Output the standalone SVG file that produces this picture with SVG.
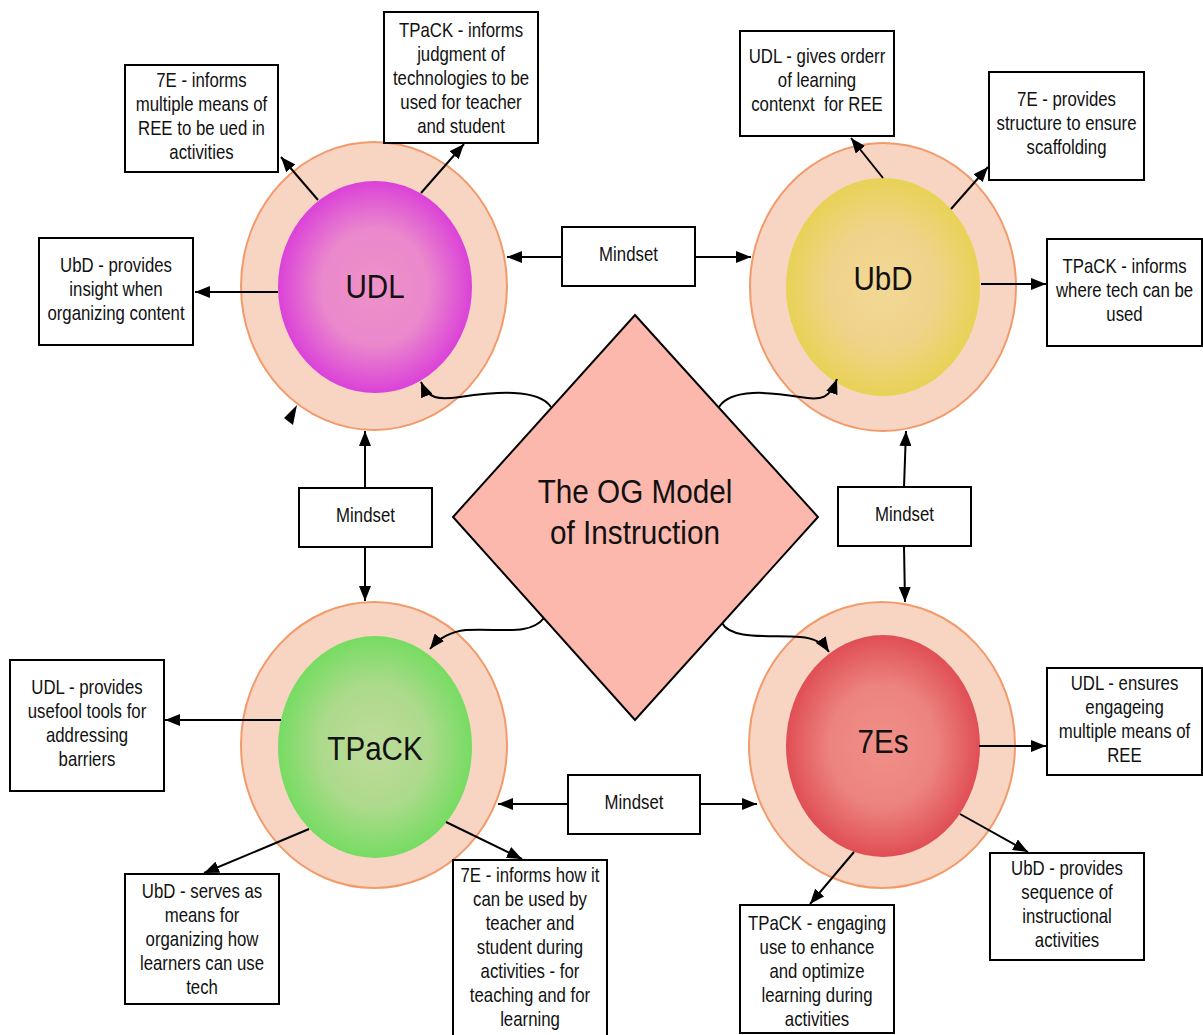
<svg xmlns="http://www.w3.org/2000/svg" width="1203" height="1035" viewBox="0 0 1203 1035">
<defs>
<style>
.box{fill:#fff;stroke:#000;stroke-width:2}
.t{font-family:'Liberation Sans',Arial,sans-serif;font-size:20px;fill:#111;text-anchor:middle}
.big{font-family:'Liberation Sans',Arial,sans-serif;font-size:34px;fill:#111;text-anchor:middle}
.ring{fill:#F8D5C2;stroke:#F29A6A;stroke-width:2}
.c{fill:none;stroke:#000;stroke-width:2;marker-end:url(#ah)}
.dia{fill:#FDB8AE;stroke:#000;stroke-width:2}
</style>
<marker id="ah" viewBox="0 0 15 12" refX="15" refY="6" markerWidth="15" markerHeight="12" orient="auto" markerUnits="userSpaceOnUse"><path d="M0,0 L15,6 L0,12 z" fill="#000"/></marker>
<radialGradient id="gU" cx="50%" cy="50%" r="50%"><stop offset="0" stop-color="#EE92C8"/><stop offset="0.55" stop-color="#EA88CC"/><stop offset="1" stop-color="#DB42D8"/></radialGradient>
<radialGradient id="gB" cx="50%" cy="50%" r="50%"><stop offset="0" stop-color="#F2D896"/><stop offset="0.55" stop-color="#F0D38A"/><stop offset="1" stop-color="#E8D256"/></radialGradient>
<radialGradient id="gT" cx="50%" cy="50%" r="50%"><stop offset="0" stop-color="#BEDB9A"/><stop offset="0.55" stop-color="#ADDA8C"/><stop offset="1" stop-color="#76DC62"/></radialGradient>
<radialGradient id="gE" cx="50%" cy="50%" r="50%"><stop offset="0" stop-color="#EF9088"/><stop offset="0.55" stop-color="#EC837E"/><stop offset="1" stop-color="#E04E55"/></radialGradient>
</defs>
<rect width="1203" height="1035" fill="#fff"/>

<g id="udl">
<ellipse class="ring" cx="374" cy="286" rx="133" ry="144"/>
<ellipse cx="375" cy="287" rx="97" ry="106" fill="url(#gU)"/>
<text class="big" transform="translate(375,298) scale(0.87,1)">UDL</text>
</g>
<g id="ubd">
<ellipse class="ring" cx="883" cy="287" rx="133" ry="144"/>
<ellipse cx="883" cy="287" rx="97" ry="109" fill="url(#gB)"/>
<text class="big" transform="translate(883,290) scale(0.87,1)">UbD</text>
</g>
<g id="tpack">
<ellipse class="ring" cx="374" cy="745" rx="133" ry="143"/>
<ellipse cx="375" cy="747" rx="97" ry="111" fill="url(#gT)"/>
<text class="big" transform="translate(375,760) scale(0.87,1)">TPaCK</text>
</g>
<g id="sevenes">
<ellipse class="ring" cx="882" cy="745" rx="133" ry="143"/>
<ellipse cx="883" cy="746" rx="97" ry="111" fill="url(#gE)"/>
<text class="big" transform="translate(883,753) scale(0.87,1)">7Es</text>
</g>

<g id="og-model">
<polygon class="dia" points="635,315 818,517 635,720 453,517"/>
<g transform="translate(635,0) scale(0.9,1)">
<text class="big" x="0" y="503" style="font-size:33px">The OG Model</text>
<text class="big" x="0" y="544" style="font-size:33px">of Instruction</text>
</g>
</g>

<g id="connectors">
<path class="c" d="M318,200 L281,157"/>
<path class="c" d="M421,193 L464,144"/>
<path class="c" d="M278,292 L195,292"/>
<path class="c" d="M883,178 L851,138"/>
<path class="c" d="M951,209 L988,167"/>
<path class="c" d="M981,284 L1046,284"/>
<path class="c" d="M281,720 L165,720"/>
<path class="c" d="M309,829 L204,873"/>
<path class="c" d="M446,822 L522,859"/>
<path class="c" d="M979,746 L1046,746"/>
<path class="c" d="M960,814 L1028,852"/>
<path class="c" d="M854,852 L810,904"/>
<path class="c" d="M562,257 L507,257"/>
<path class="c" d="M695,257 L751,257"/>
<path class="c" d="M365,488 L365,431"/>
<path class="c" d="M365,547 L365,601"/>
<path class="c" d="M904,487 L906,431"/>
<path class="c" d="M904,546 L905,602"/>
<path class="c" d="M568,804 L498,804"/>
<path class="c" d="M700,804 L757,804"/>
<path class="c" d="M551,407 C538,388 495,392 460,397 C438,400 428,399 421,382"/>
<path class="c" d="M719,407 C731,388 770,392 800,397 C822,401 830,398 837,379"/>
<path class="c" d="M544,618 C530,636 500,628 466,630 C448,632 438,639 430,649"/>
<path class="c" d="M722,623 C731,640 770,635 800,637 C815,638 823,643 829,652"/>
<polygon points="284,418 293,425 297,405" fill="#000"/>
</g>

<g id="mindset-top">
<rect class="box" x="562" y="227" width="133" height="59"/>
<text class="t" transform="translate(628.5,261) scale(0.84,1)">Mindset</text>
</g>
<g id="mindset-left">
<rect class="box" x="299" y="488" width="133" height="59"/>
<text class="t" transform="translate(365.5,522) scale(0.84,1)">Mindset</text>
</g>
<g id="mindset-right">
<rect class="box" x="838" y="487" width="133" height="59"/>
<text class="t" transform="translate(904.5,521) scale(0.84,1)">Mindset</text>
</g>
<g id="mindset-bottom">
<rect class="box" x="568" y="775" width="132" height="59"/>
<text class="t" transform="translate(634,809) scale(0.84,1)">Mindset</text>
</g>

<g id="b1">
<rect class="box" x="125" y="65" width="153" height="107"/>
<g transform="translate(201.5,0) scale(0.84,1)">
<text class="t" x="0" y="87">7E - informs</text>
<text class="t" x="0" y="111">multiple means of</text>
<text class="t" x="0" y="135">REE to be ued in</text>
<text class="t" x="0" y="159">activities</text>
</g>
</g>
<g id="b2">
<rect class="box" x="384" y="12" width="154" height="131"/>
<g transform="translate(461,0) scale(0.84,1)">
<text class="t" x="0" y="37">TPaCK - informs</text>
<text class="t" x="0" y="61">judgment of</text>
<text class="t" x="0" y="85">technologies to be</text>
<text class="t" x="0" y="109">used for teacher</text>
<text class="t" x="0" y="133">and student</text>
</g>
</g>
<g id="b3">
<rect class="box" x="39" y="238" width="154" height="107"/>
<g transform="translate(116,0) scale(0.84,1)">
<text class="t" x="0" y="272">UbD - provides</text>
<text class="t" x="0" y="296">insight when</text>
<text class="t" x="0" y="320">organizing content</text>
</g>
</g>
<g id="b4">
<rect class="box" x="740" y="31" width="154" height="105"/>
<g transform="translate(817,0) scale(0.84,1)">
<text class="t" x="0" y="63">UDL - gives orderr</text>
<text class="t" x="0" y="87">of learning</text>
<text class="t" x="0" y="111" xml:space="preserve">contenxt  for REE</text>
</g>
</g>
<g id="b5">
<rect class="box" x="989" y="72" width="155" height="108"/>
<g transform="translate(1066.5,0) scale(0.84,1)">
<text class="t" x="0" y="106">7E - provides</text>
<text class="t" x="0" y="130">structure to ensure</text>
<text class="t" x="0" y="154">scaffolding</text>
</g>
</g>
<g id="b6">
<rect class="box" x="1047" y="239" width="155" height="107"/>
<g transform="translate(1124.5,0) scale(0.84,1)">
<text class="t" x="0" y="273">TPaCK - informs</text>
<text class="t" x="0" y="297">where tech can be</text>
<text class="t" x="0" y="321">used</text>
</g>
</g>
<g id="b7">
<rect class="box" x="10" y="660" width="154" height="131"/>
<g transform="translate(87,0) scale(0.84,1)">
<text class="t" x="0" y="694">UDL - provides</text>
<text class="t" x="0" y="718">usefool tools for</text>
<text class="t" x="0" y="742">addressing</text>
<text class="t" x="0" y="766">barriers</text>
</g>
</g>
<g id="b8">
<rect class="box" x="125" y="874" width="154" height="130"/>
<g transform="translate(202,0) scale(0.84,1)">
<text class="t" x="0" y="898">UbD - serves as</text>
<text class="t" x="0" y="922">means for</text>
<text class="t" x="0" y="946">organizing how</text>
<text class="t" x="0" y="970">learners can use</text>
<text class="t" x="0" y="994">tech</text>
</g>
</g>
<g id="b9">
<rect class="box" x="453" y="860" width="154" height="185"/>
<g transform="translate(530,0) scale(0.84,1)">
<text class="t" x="0" y="882">7E - informs how it</text>
<text class="t" x="0" y="906">can be used by</text>
<text class="t" x="0" y="930">teacher and</text>
<text class="t" x="0" y="954">student during</text>
<text class="t" x="0" y="978">activities - for</text>
<text class="t" x="0" y="1002">teaching and for</text>
<text class="t" x="0" y="1026">learning</text>
</g>
</g>
<g id="b10">
<rect class="box" x="1047" y="668" width="155" height="107"/>
<g transform="translate(1124.5,0) scale(0.84,1)">
<text class="t" x="0" y="690">UDL - ensures</text>
<text class="t" x="0" y="714">engageing</text>
<text class="t" x="0" y="738">multiple means of</text>
<text class="t" x="0" y="762">REE</text>
</g>
</g>
<g id="b11">
<rect class="box" x="990" y="853" width="154" height="107"/>
<g transform="translate(1067,0) scale(0.84,1)">
<text class="t" x="0" y="875">UbD - provides</text>
<text class="t" x="0" y="899">sequence of</text>
<text class="t" x="0" y="923">instructional</text>
<text class="t" x="0" y="947">activities</text>
</g>
</g>
<g id="b12">
<rect class="box" x="740" y="905" width="154" height="128"/>
<g transform="translate(817,0) scale(0.84,1)">
<text class="t" x="0" y="930">TPaCK - engaging</text>
<text class="t" x="0" y="954">use to enhance</text>
<text class="t" x="0" y="978">and optimize</text>
<text class="t" x="0" y="1002">learning during</text>
<text class="t" x="0" y="1026">activities</text>
</g>
</g>
</svg>
